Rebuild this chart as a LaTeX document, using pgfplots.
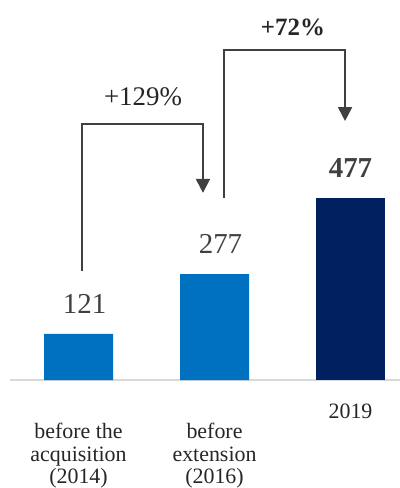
\documentclass[border=0pt]{standalone}
\usepackage{pgfplots}
\pgfplotsset{compat=1.18}
\usepackage{fontspec}
\setmainfont{Liberation Serif}
\usetikzlibrary{arrows.meta}
\definecolor{midblue}{HTML}{0070C0}
\definecolor{navy}{HTML}{002060}
\definecolor{txtgray}{HTML}{404040}
\definecolor{axgray}{HTML}{D9D9D9}

\begin{document}
\begin{tikzpicture}
\begin{axis}[
  scale only axis, width=390bp, height=380bp,
  xmin=-0.504, xmax=2.364, ymin=0, ymax=995,
  axis x line=bottom, axis y line=none,
  x axis line style={-, draw=axgray, line width=1.5bp},
  xtick={0,1,2}, ytick=\empty,
  xticklabels={{before the\\acquisition\\(2014)},{before\\extension\\(2016)},{\raisebox{19bp}[\height][\depth]{2019}}},
  xticklabel style={align=center, anchor=north, inner sep=0pt, yshift=-43bp,
    font=\fontsize{22}{22.5}\selectfont, text=black!85},
  major tick length=0pt,
  ybar, bar width=69bp, bar shift=0pt,
  every node near coord/.append style={anchor=south, yshift=17bp, text=txtgray},
  clip=false,
]
% bars
\addplot[fill=midblue, draw=none,
  nodes near coords={\fontsize{29}{33}\selectfont\pgfmathprintnumber[assume math mode=true]{\pgfplotspointmeta}},
  every node near coord/.append style={xshift=6bp}]
  coordinates {(0,121) (1,277)};
\addplot[fill=navy, draw=none,
  nodes near coords={\fontsize{29}{33}\selectfont\bfseries\pgfmathprintnumber[assume math mode=true]{\pgfplotspointmeta}}]
  coordinates {(2,477)};

% growth arrows
\draw[txtgray, line width=2bp, -{Triangle[width=14bp,length=14bp]}]
  (axis cs:0.026,285) |- (axis cs:0.915,670) -- (axis cs:0.915,490);
\draw[txtgray, line width=2bp, -{Triangle[width=14bp,length=14bp]}]
  (axis cs:1.07,476) |- (axis cs:1.96,864) -- (axis cs:1.96,678);
\node[font=\fontsize{27}{30}\selectfont, text=black!85] at (axis cs:0.474,743) {+129\%};
\node[font=\fontsize{25}{28}\selectfont\bfseries, text=black!85] at (axis cs:1.577,924) {+72\%};

\coordinate (O) at (rel axis cs:0,0);
\coordinate (T) at (rel axis cs:1,1);
\end{axis}
\pgfresetboundingbox
\path[use as bounding box] ([xshift=-10bp,yshift=-108bp]O) rectangle (T);
\end{tikzpicture}
\end{document}
